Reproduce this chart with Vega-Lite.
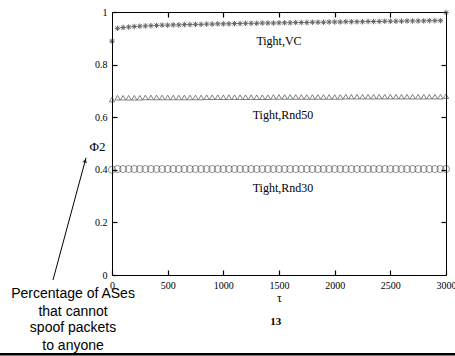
{
  "$schema": "https://vega.github.io/schema/vega-lite/v6.json",
  "width": 334,
  "height": 263,
  "autosize": "none",
  "padding": {"left": 112, "top": 12, "right": 9, "bottom": 81},
  "background": "white",
  "config": {
    "view": {"stroke": "black", "strokeWidth": 1},
    "font": "Liberation Serif",
    "axis": {"grid": false, "domain": false, "ticks": true, "zindex": 2, "tickColor": "#000000", "tickWidth": 1.2, "tickSize": 5, "offset": -5, "labelColor": "black", "labelFont": "Liberation Serif", "labelFontSize": 10, "labelFlush": false, "titleFont": "Liberation Serif", "titleFontWeight": "normal", "titleColor": "black"}
  },
  "resolve": {"axis": {"x": "independent", "y": "independent"}},
  "layer": [
    {
      "data": {"values": [
        {"t":0,"phi":0.889},{"t":50,"phi":0.938},{"t":100,"phi":0.941},{"t":150,"phi":0.943},{"t":200,"phi":0.945},{"t":250,"phi":0.946},{"t":300,"phi":0.947},{"t":350,"phi":0.948},{"t":400,"phi":0.949},{"t":450,"phi":0.950},{"t":500,"phi":0.950},{"t":550,"phi":0.951},{"t":600,"phi":0.951},{"t":650,"phi":0.952},{"t":700,"phi":0.952},{"t":750,"phi":0.953},{"t":800,"phi":0.953},{"t":850,"phi":0.954},{"t":900,"phi":0.954},{"t":950,"phi":0.955},{"t":1000,"phi":0.955},{"t":1050,"phi":0.955},{"t":1100,"phi":0.956},{"t":1150,"phi":0.956},{"t":1200,"phi":0.957},{"t":1250,"phi":0.957},{"t":1300,"phi":0.957},{"t":1350,"phi":0.958},{"t":1400,"phi":0.958},{"t":1450,"phi":0.958},{"t":1500,"phi":0.959},{"t":1550,"phi":0.959},{"t":1600,"phi":0.959},{"t":1650,"phi":0.960},{"t":1700,"phi":0.960},{"t":1750,"phi":0.960},{"t":1800,"phi":0.961},{"t":1850,"phi":0.961},{"t":1900,"phi":0.961},{"t":1950,"phi":0.962},{"t":2000,"phi":0.962},{"t":2050,"phi":0.962},{"t":2100,"phi":0.963},{"t":2150,"phi":0.963},{"t":2200,"phi":0.963},{"t":2250,"phi":0.963},{"t":2300,"phi":0.964},{"t":2350,"phi":0.964},{"t":2400,"phi":0.964},{"t":2450,"phi":0.965},{"t":2500,"phi":0.965},{"t":2550,"phi":0.965},{"t":2600,"phi":0.965},{"t":2650,"phi":0.966},{"t":2700,"phi":0.966},{"t":2750,"phi":0.966},{"t":2800,"phi":0.966},{"t":2850,"phi":0.967},{"t":2900,"phi":0.967},{"t":2950,"phi":0.967},{"t":3000,"phi":0.998}
      ]},
      "mark": {"type": "point", "shape": "M-1,0L1,0M0,-1L0,1M-0.7,-0.7L0.7,0.7M-0.7,0.7L0.7,-0.7", "filled": false, "stroke": "#222", "strokeWidth": 1, "size": 30, "clip": false},
      "encoding": {
        "x": {"field": "t", "type": "quantitative", "scale": {"domain": [0, 3000], "nice": false, "zero": false},
              "axis": {"orient": "bottom", "values": [0,500,1000,1500,2000,2500,3000], "format": "d", "labelPadding": 5, "title": "τ", "titleFontSize": 12, "titleY": 27, "titleBaseline": "middle"}},
        "y": {"field": "phi", "type": "quantitative", "scale": {"domain": [0, 1], "nice": false, "zero": false},
              "axis": {"orient": "left", "values": [0,0.2,0.4,0.6,0.8,1], "format": "~g", "labelPadding": 5, "title": "Φ2", "titleFontSize": 13, "titleAngle": 0, "titleX": -20, "titleY": 134, "titleAlign": "center", "titleBaseline": "middle"}}
      }
    },
    {
      "data": {"values": [
        {"t":0,"phi":0.667},{"t":50,"phi":0.674},{"t":100,"phi":0.674},{"t":150,"phi":0.674},{"t":200,"phi":0.674},{"t":250,"phi":0.674},{"t":300,"phi":0.675},{"t":350,"phi":0.675},{"t":400,"phi":0.675},{"t":450,"phi":0.675},{"t":500,"phi":0.675},{"t":550,"phi":0.675},{"t":600,"phi":0.675},{"t":650,"phi":0.675},{"t":700,"phi":0.675},{"t":750,"phi":0.675},{"t":800,"phi":0.675},{"t":850,"phi":0.676},{"t":900,"phi":0.676},{"t":950,"phi":0.676},{"t":1000,"phi":0.676},{"t":1050,"phi":0.676},{"t":1100,"phi":0.676},{"t":1150,"phi":0.676},{"t":1200,"phi":0.676},{"t":1250,"phi":0.676},{"t":1300,"phi":0.676},{"t":1350,"phi":0.676},{"t":1400,"phi":0.676},{"t":1450,"phi":0.677},{"t":1500,"phi":0.677},{"t":1550,"phi":0.677},{"t":1600,"phi":0.677},{"t":1650,"phi":0.677},{"t":1700,"phi":0.677},{"t":1750,"phi":0.677},{"t":1800,"phi":0.677},{"t":1850,"phi":0.677},{"t":1900,"phi":0.677},{"t":1950,"phi":0.677},{"t":2000,"phi":0.677},{"t":2050,"phi":0.677},{"t":2100,"phi":0.678},{"t":2150,"phi":0.678},{"t":2200,"phi":0.678},{"t":2250,"phi":0.678},{"t":2300,"phi":0.678},{"t":2350,"phi":0.678},{"t":2400,"phi":0.678},{"t":2450,"phi":0.678},{"t":2500,"phi":0.678},{"t":2550,"phi":0.678},{"t":2600,"phi":0.678},{"t":2650,"phi":0.678},{"t":2700,"phi":0.678},{"t":2750,"phi":0.678},{"t":2800,"phi":0.678},{"t":2850,"phi":0.678},{"t":2900,"phi":0.678},{"t":2950,"phi":0.678},{"t":3000,"phi":0.680}
      ]},
      "mark": {"type": "point", "shape": "triangle-up", "filled": false, "stroke": "#222", "strokeWidth": 0.8, "size": 28, "clip": false},
      "encoding": {
        "x": {"field": "t", "type": "quantitative", "axis": {"orient": "top", "values": [500,1000,1500,2000,2500], "labels": false, "title": null}},
        "y": {"field": "phi", "type": "quantitative", "axis": {"orient": "right", "values": [0.2,0.4,0.6,0.8], "labels": false, "title": null}}
      }
    },
    {
      "data": {"values": [
        {"t":0,"phi":0.400},{"t":50,"phi":0.403},{"t":100,"phi":0.403},{"t":150,"phi":0.403},{"t":200,"phi":0.403},{"t":250,"phi":0.403},{"t":300,"phi":0.403},{"t":350,"phi":0.403},{"t":400,"phi":0.403},{"t":450,"phi":0.403},{"t":500,"phi":0.403},{"t":550,"phi":0.403},{"t":600,"phi":0.403},{"t":650,"phi":0.403},{"t":700,"phi":0.403},{"t":750,"phi":0.403},{"t":800,"phi":0.403},{"t":850,"phi":0.403},{"t":900,"phi":0.403},{"t":950,"phi":0.403},{"t":1000,"phi":0.403},{"t":1050,"phi":0.403},{"t":1100,"phi":0.403},{"t":1150,"phi":0.403},{"t":1200,"phi":0.403},{"t":1250,"phi":0.403},{"t":1300,"phi":0.403},{"t":1350,"phi":0.403},{"t":1400,"phi":0.403},{"t":1450,"phi":0.403},{"t":1500,"phi":0.403},{"t":1550,"phi":0.403},{"t":1600,"phi":0.403},{"t":1650,"phi":0.403},{"t":1700,"phi":0.403},{"t":1750,"phi":0.403},{"t":1800,"phi":0.403},{"t":1850,"phi":0.403},{"t":1900,"phi":0.403},{"t":1950,"phi":0.403},{"t":2000,"phi":0.403},{"t":2050,"phi":0.403},{"t":2100,"phi":0.403},{"t":2150,"phi":0.403},{"t":2200,"phi":0.403},{"t":2250,"phi":0.403},{"t":2300,"phi":0.403},{"t":2350,"phi":0.403},{"t":2400,"phi":0.403},{"t":2450,"phi":0.403},{"t":2500,"phi":0.403},{"t":2550,"phi":0.403},{"t":2600,"phi":0.403},{"t":2650,"phi":0.403},{"t":2700,"phi":0.403},{"t":2750,"phi":0.403},{"t":2800,"phi":0.403},{"t":2850,"phi":0.403},{"t":2900,"phi":0.403},{"t":2950,"phi":0.403},{"t":3000,"phi":0.403}
      ]},
      "mark": {"type": "point", "shape": "circle", "filled": false, "stroke": "#222", "strokeWidth": 0.7, "size": 50, "clip": false},
      "encoding": {
        "x": {"field": "t", "type": "quantitative", "axis": null},
        "y": {"field": "phi", "type": "quantitative", "axis": null}
      }
    },
    {
      "data": {"values": [
        {"t": 1500, "phi": 0.889, "label": "Tight,VC"},
        {"t": 1536, "phi": 0.610, "label": "Tight,Rnd50"},
        {"t": 1536, "phi": 0.331, "label": "Tight,Rnd30"}
      ]},
      "mark": {"type": "text", "font": "Liberation Serif", "fontSize": 12, "color": "black", "align": "center", "baseline": "middle", "clip": false},
      "encoding": {
        "x": {"field": "t", "type": "quantitative", "axis": null},
        "y": {"field": "phi", "type": "quantitative", "axis": null},
        "text": {"field": "label"}
      }
    },
    {
      "data": {"values": [{"t": 1470, "phi": -0.180, "label": "13"}]},
      "mark": {"type": "text", "font": "Liberation Serif", "fontSize": 11, "fontWeight": "bold", "color": "black", "align": "center", "baseline": "middle", "clip": false},
      "encoding": {
        "x": {"field": "t", "type": "quantitative", "axis": null},
        "y": {"field": "phi", "type": "quantitative", "axis": null},
        "text": {"field": "label"}
      }
    },
    {
      "data": {"values": [
        {"t": -350, "phi": -0.0724, "label": "Percentage of ASes"},
        {"t": -350, "phi": -0.1398, "label": "that cannot"},
        {"t": -350, "phi": -0.2019, "label": "spoof packets"},
        {"t": -350, "phi": -0.2694, "label": "to anyone"}
      ]},
      "mark": {"type": "text", "font": "Liberation Sans", "fontSize": 14, "color": "black", "align": "center", "baseline": "middle", "clip": false},
      "encoding": {
        "x": {"field": "t", "type": "quantitative", "axis": null},
        "y": {"field": "phi", "type": "quantitative", "axis": null},
        "text": {"field": "label"}
      }
    },
    {
      "data": {"values": [
        {"t": -530, "phi": -0.019, "t2": -233.5, "phi2": 0.4457},
        {"t": -1010, "phi": -0.301, "t2": 3090, "phi2": -0.301}
      ]},
      "mark": {"type": "rule", "color": "black", "clip": false},
      "encoding": {
        "x": {"field": "t", "type": "quantitative", "axis": null},
        "y": {"field": "phi", "type": "quantitative", "axis": null},
        "x2": {"field": "t2"},
        "y2": {"field": "phi2"},
        "strokeWidth": {"condition": {"test": "datum.phi2 < 0", "value": 2.5}, "value": 1}
      }
    },
    {
      "data": {"values": [{"t": -240.7, "phi": 0.4347}]},
      "mark": {"type": "point", "shape": "triangle-up", "filled": true, "color": "black", "size": 22, "angle": 15, "clip": false},
      "encoding": {
        "x": {"field": "t", "type": "quantitative", "axis": null},
        "y": {"field": "phi", "type": "quantitative", "axis": null}
      }
    }
  ]
}
